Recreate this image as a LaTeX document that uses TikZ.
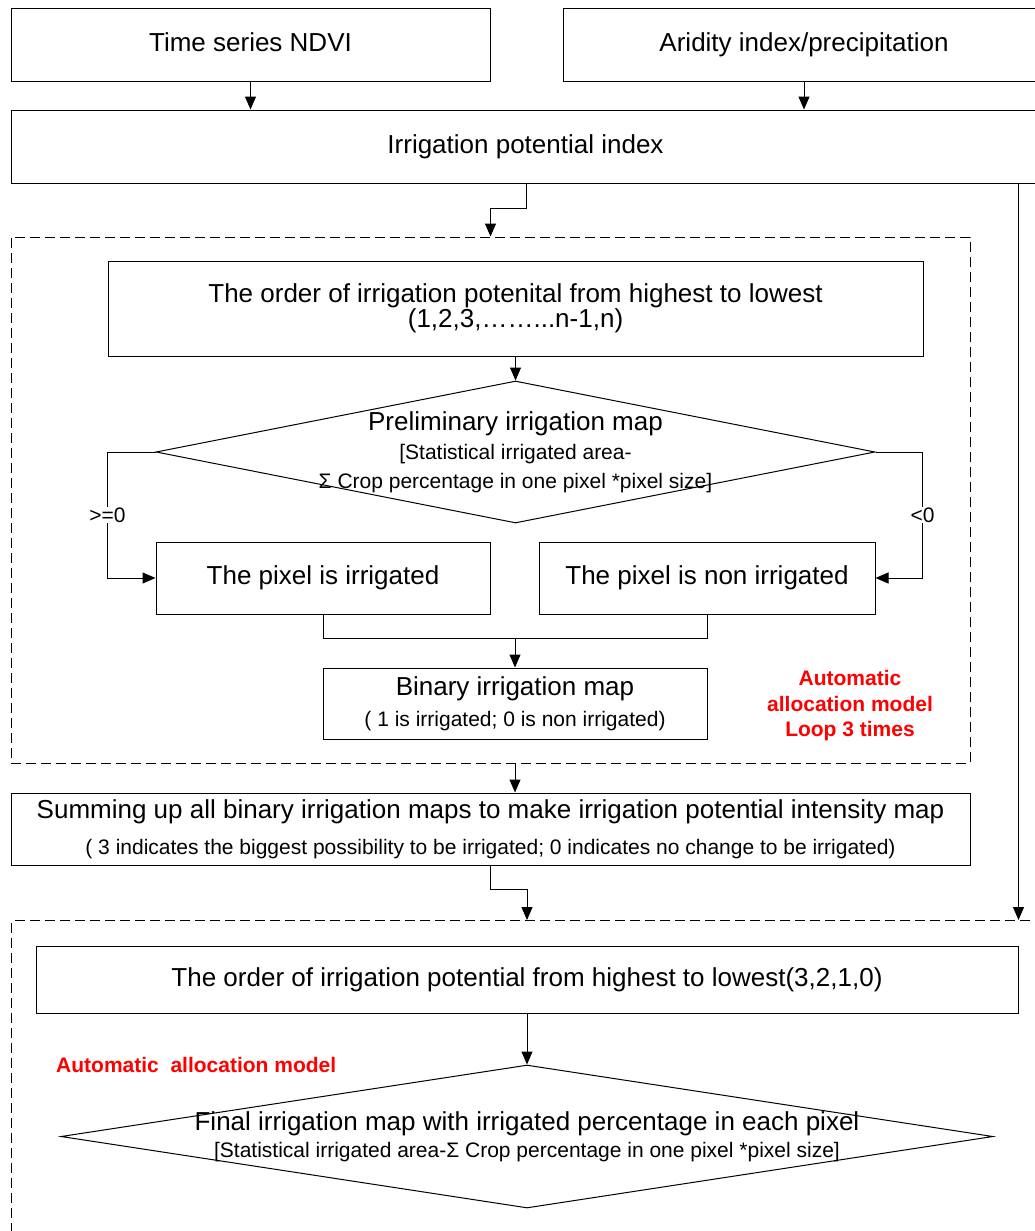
\documentclass[tikz,border=0pt]{standalone}
\usepackage{fontspec}
\setmainfont{Liberation Sans}
\usetikzlibrary{shapes.geometric,arrows.meta,calc}

\newcommand{\bigtxt}{\fontsize{26}{29}\selectfont}
\newcommand{\smalltxt}{\fontsize{21}{25.5}\selectfont}

\tikzset{
  box/.style={draw, line width=1pt, inner sep=0pt, align=center, font=\bigtxt},
  oneline/.style={text height=19pt, text depth=5.5pt},
  dbox/.style={draw, line width=1pt, dash pattern=on 10pt off 5pt, inner sep=0pt},
  decide/.style={draw, diamond, line width=1pt, inner sep=0pt},
  dtext/.style={align=center, inner sep=0pt},
  arr/.style={line width=1pt, -{Triangle[length=13pt,width=11pt]}},
  line/.style={line width=1pt},
  redlbl/.style={text=red, font=\smalltxt\bfseries, align=center, inner sep=0pt},
  cond/.style={fill=white, font=\smalltxt, inner sep=1pt}
}

\begin{document}
\begin{tikzpicture}[x=1pt,y=-1pt]
\useasboundingbox (0,0) rectangle (1035,1231);
\clip (0,0) rectangle (1035,1231);

% inputs
\node[box, oneline, minimum width=479pt, minimum height=72pt] (ndvi) at (250.5,45) {Time series NDVI};
\node[box, oneline, minimum width=482pt, minimum height=72pt] (arid) at (804,45) {Aridity index/precipitation};
\node[box, oneline, minimum width=1029pt, minimum height=73pt] (ipi) at (525.5,146.5) {Irrigation potential index};

% first allocation loop
\node[dbox, minimum width=959pt, minimum height=526pt] (loop) at (490.5,500) {};
\node[box, minimum width=815pt, minimum height=95pt, font={\fontsize{26}{24}\selectfont}] (ord1) at (515.5,308.5)
  {The order of irrigation potenital from highest to lowest\\(1,2,3,……...n-1,n)};
\node[decide, minimum width=719pt, minimum height=142pt] (dia1) at (515.5,452) {};
\node[dtext, font=\bigtxt] (dia1txt) at (dia1.center)
  {Preliminary irrigation map\\{\smalltxt [Statistical irrigated area-}\\{\smalltxt Σ Crop percentage in one pixel *pixel size]}};
\node[box, oneline, minimum width=334pt, minimum height=72pt] (irr) at (323,578) {The pixel is irrigated};
\node[box, oneline, minimum width=336pt, minimum height=72pt] (nonirr) at (707,578) {The pixel is non irrigated};
\node[box, minimum width=384pt, minimum height=71pt, font={\fontsize{26}{31}\selectfont}] (bin) at (515,703.5)
  {Binary irrigation map\\{\smalltxt ( 1 is irrigated; 0 is non irrigated)}};
\node[redlbl] (loopnote) at (850,706) {Automatic\\allocation model\\Loop 3 times};

% intensity map
\node[box, minimum width=959pt, minimum height=72pt, font={\fontsize{26}{36}\selectfont}] (sum) at (490.5,829)
  {Summing up all binary irrigation maps to make irrigation potential intensity map\\{\smalltxt ( 3 indicates the biggest possibility to be irrigated; 0 indicates no change to be irrigated)}};

% final allocation
\node[dbox, minimum width=1034pt, minimum height=330pt, anchor=north west] (final) at (11,920) {};
\node[box, oneline, minimum width=982pt, minimum height=67pt] (ord2) at (527,979.5)
  {The order of irrigation potential from highest to lowest(3,2,1,0)};
\node[redlbl, anchor=west] (modelnote) at (56,1065) {Automatic\ \ allocation model};
\node[decide, minimum width=932pt, minimum height=143pt] (dia2) at (527,1136.5) {};
\node[dtext, font={\fontsize{26}{27}\selectfont}] (dia2txt) at (dia2.center)
  {Final irrigation map with irrigated percentage in each pixel\\{\smalltxt [Statistical irrigated area-Σ Crop percentage in one pixel *pixel size]}};

% connectors
\draw[arr] (ndvi.south) -- (ndvi.south |- ipi.north);
\draw[arr] (arid.south) -- (arid.south |- ipi.north);
\draw[arr] ([xshift=0.5pt]ipi.south) -- ++(0,25) -| (loop.north);
\draw[arr] (ipi.south -| ord2.east) -- (ord2.east |- final.north);
\draw[arr] (ord1.south) -- (dia1.north);
\draw[arr] (dia1.west) -| node[cond, pos=0.75] {>=0} ([xshift=-48pt]irr.west) -- (irr.west);
\draw[arr] (dia1.east) -| node[cond, pos=0.75] {<0} ([xshift=47pt]nonirr.east) -- (nonirr.east);
\coordinate (join) at ($(irr.south)!0.5!(nonirr.south) + (0,24)$);
\draw[line] (irr.south) |- (join) -| (nonirr.south);
\draw[arr] (join) -- (bin.north);
\draw[arr] (bin.south |- loop.south) -- (bin.south |- sum.north);
\draw[arr] (sum.south) -- ++(0,24) -| (dia2.north |- final.north);
\draw[arr] (ord2.south) -- (dia2.north);

\end{tikzpicture}
\end{document}
